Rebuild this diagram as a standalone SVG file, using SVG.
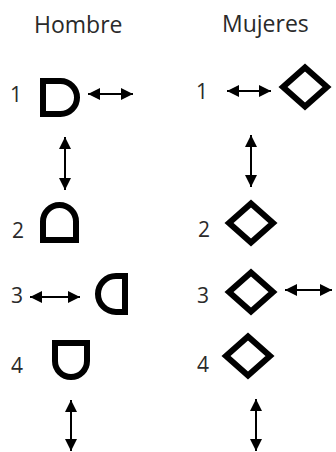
<svg xmlns="http://www.w3.org/2000/svg" width="336" height="452" viewBox="0 0 336 452">
<defs>
<marker id="ah" markerUnits="userSpaceOnUse" markerWidth="12" markerHeight="12" refX="11" refY="5.5" orient="auto-start-reverse" viewBox="0 0 11 11">
<path d="M0,0 L11,5.5 L0,11 Z" fill="#000"/>
</marker>
<style>
.t{font-family:"Open Sans","Liberation Sans",sans-serif;font-size:23px;fill:#2a2a2a}
.n{font-family:"Open Sans","Liberation Sans",sans-serif;font-size:21px;fill:#2a2a2a}
.s{fill:none;stroke:#000;stroke-width:6;stroke-linejoin:miter}
.a{stroke:#000;stroke-width:2;fill:none;marker-start:url(#ah);marker-end:url(#ah)}
</style>
</defs>
<rect width="336" height="452" fill="#fff"/>
<g id="titles">
<text class="t" x="34" y="33">Hombre</text>
<text class="t" x="222" y="32">Mujeres</text>
</g>
<g id="h1"><text class="n" x="10" y="102">1</text><path class="s" d="M43,81 H60.5 A16.5,16.5 0 0 1 60.5,114 H43 Z"/></g>
<g id="h2"><text class="n" x="12" y="238">2</text><path class="s" d="M43,240 V221.5 A16.5,16.5 0 0 1 76,221.5 V240 Z"/></g>
<g id="h3"><text class="n" x="11" y="303">3</text><path class="s" d="M125,276 H116 A18,18 0 0 0 116,312 H125 Z"/></g>
<g id="h4"><text class="n" x="11" y="373">4</text><path class="s" d="M55,343 V361 A16,16 0 0 0 87,361 V343 Z"/></g>
<g id="m1"><text class="n" x="196" y="99">1</text><path class="s" d="M283,87 L305,67.5 L327,87 L305,106.5 Z"/></g>
<g id="m2"><text class="n" x="198" y="237">2</text><path class="s" d="M229,223 L251,203.5 L273,223 L251,242.5 Z"/></g>
<g id="m3"><text class="n" x="197" y="303">3</text><path class="s" d="M229,292 L251,272.5 L273,292 L251,311.5 Z"/></g>
<g id="m4"><text class="n" x="197" y="372">4</text><path class="s" d="M226,356 L248,336.5 L270,356 L248,375.5 Z"/></g>
<g id="connectors">
<line class="a" x1="88" y1="94" x2="133" y2="94"/>
<line class="a" x1="65" y1="137" x2="65" y2="190"/>
<line class="a" x1="30" y1="297" x2="80" y2="297"/>
<line class="a" x1="71" y1="400" x2="71" y2="451"/>
<line class="a" x1="227" y1="91" x2="271" y2="91"/>
<line class="a" x1="251" y1="135" x2="251" y2="187"/>
<line class="a" x1="285" y1="290" x2="332" y2="290"/>
<line class="a" x1="256" y1="399" x2="256" y2="451"/>
</g>
</svg>
